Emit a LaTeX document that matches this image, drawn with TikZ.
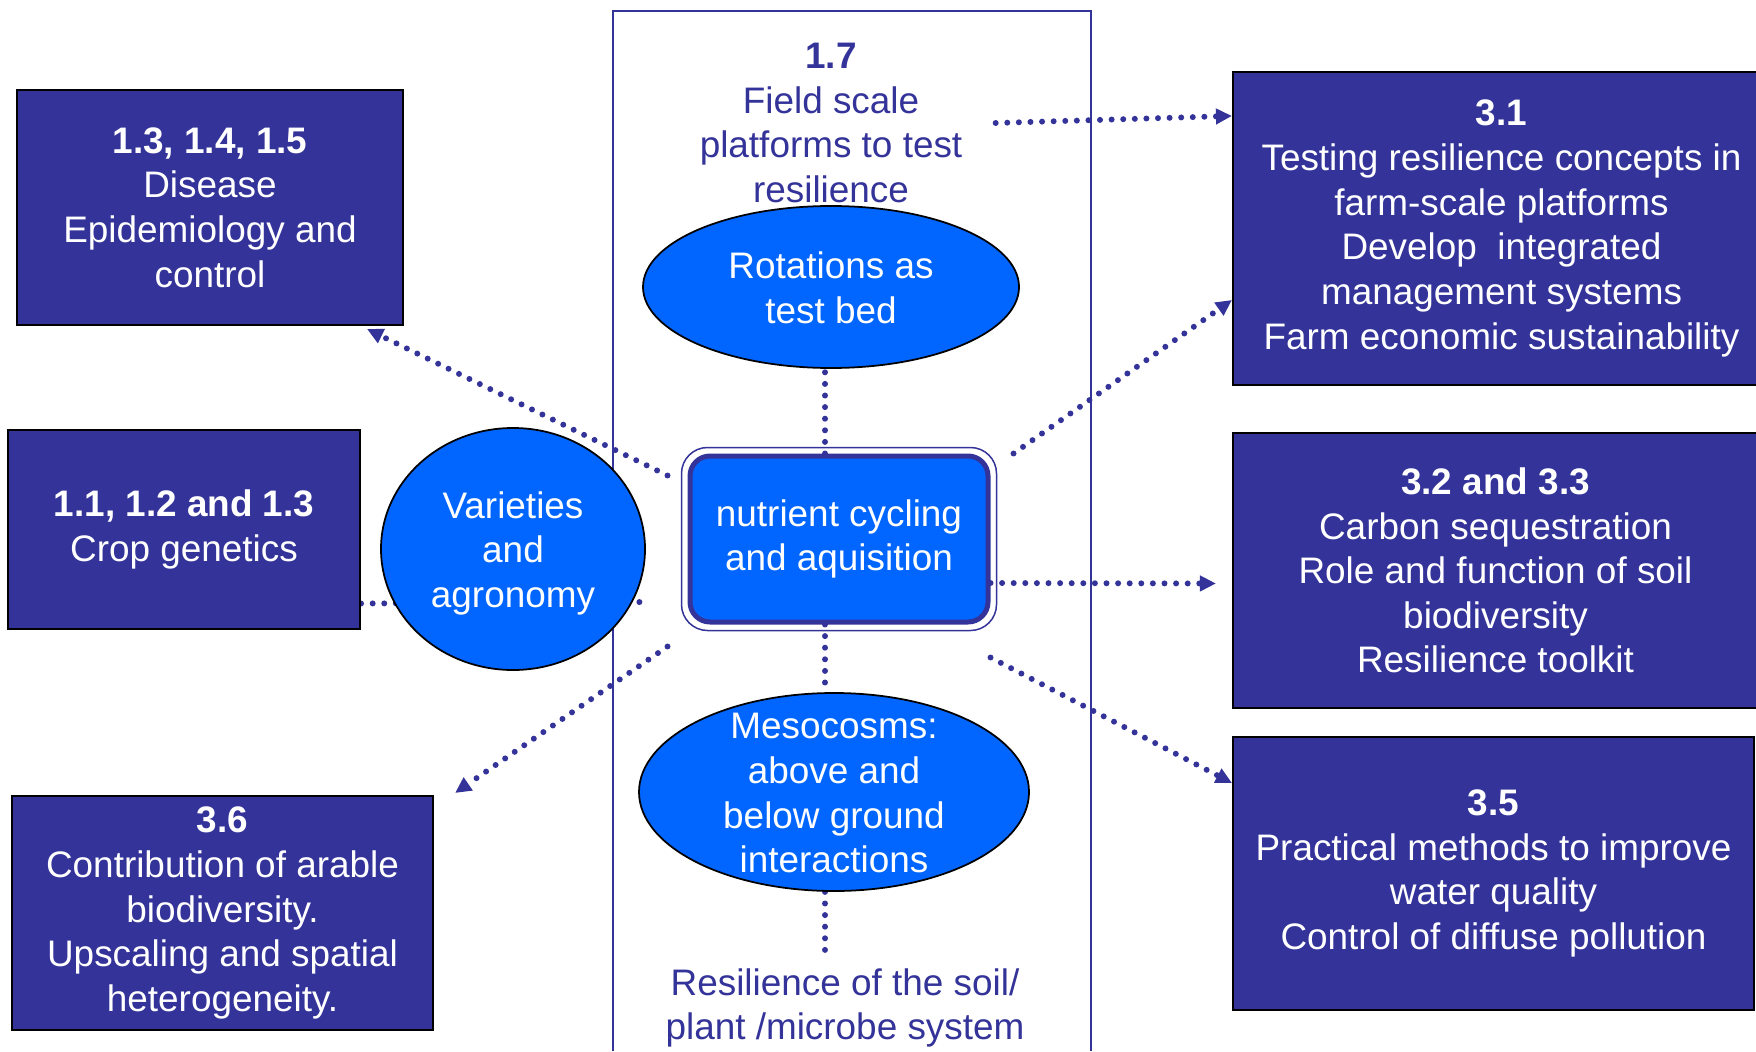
\documentclass[tikz,border=0pt]{standalone}
\usepackage{fontspec}
\setmainfont{Liberation Sans}
\usepackage{xcolor}
\usetikzlibrary{shapes.geometric,arrows.meta,backgrounds}
\definecolor{BoxColor}{HTML}{333399}
\definecolor{OvalColor}{HTML}{0066FF}
\newcommand{\ovaltext}[1]{\smash{\raisebox{-0.145cm}{\begin{tabular}{@{}c@{}}#1\end{tabular}}}}
\tikzset{
  wpbox/.style={draw=black, line width=0.6pt, fill=BoxColor, text=white, align=center, inner sep=0pt,
    execute at begin node={\rule{0pt}{0.38cm}}},
  oval/.style={ellipse, draw=black, line width=0.5pt, fill=OvalColor, text=white, inner sep=0pt},
  dotline/.style={draw=BoxColor, line width=1.7pt, line cap=round, dash pattern=on 0pt off 3.3pt},
  dotarrow/.style={dotline, -{Triangle[length=0.16cm, width=0.15cm]}},
  frametext/.style={text=BoxColor, align=center},
}

\begin{document}
\begin{tikzpicture}[font=\fontsize{10.5}{12.7}\selectfont]
  \useasboundingbox (0,0) rectangle (17.56,-10.51);

  \node[wpbox, minimum width=3.86cm, minimum height=2.35cm] (disease) at (2.10,-2.075)
    {\textbf{1.3, 1.4, 1.5}\\Disease\\Epidemiology and\\control};
  \node[wpbox, minimum width=3.52cm, minimum height=1.99cm] (crop) at (1.84,-5.295)
    {\textbf{1.1, 1.2 and 1.3}\\Crop genetics};
  \node[wpbox, minimum width=4.21cm, minimum height=2.34cm] (arable) at (2.225,-9.13)
    {\textbf{3.6}\\Contribution of arable\\biodiversity.\\Upscaling and spatial\\heterogeneity.};
  \node[wpbox, minimum width=5.37cm, minimum height=3.13cm] (farm) at (15.015,-2.285)
    {\textbf{3.1}\\Testing resilience concepts in\\farm-scale platforms\\Develop~ integrated\\management systems\\Farm economic sustainability};
  \node[wpbox, minimum width=5.25cm, minimum height=2.75cm] (carbon) at (14.955,-5.705)
    {\textbf{3.2 and 3.3}\\Carbon sequestration\\Role and function of soil\\biodiversity\\Resilience toolkit};
  \node[wpbox, minimum width=5.21cm, minimum height=2.73cm] (water) at (14.935,-8.735)
    {\textbf{3.5}\\Practical methods to improve\\water quality\\Control of diffuse pollution};

  \node[frametext] (field) at (8.31,-1.23) {\textbf{1.7}\\Field scale\\platforms to test\\resilience};
  \node[frametext] (soil) at (8.45,-10.08) {Resilience of the soil/\\plant /microbe system};

  \node[oval, minimum width=3.76cm, minimum height=1.62cm] (rot) at (8.31,-2.87)
    {\ovaltext{Rotations as\\test bed}};
  \node[oval, minimum width=2.64cm, minimum height=2.42cm] (var) at (5.13,-5.49)
    {\ovaltext{Varieties\\and\\agronomy}};
  \node[oval, minimum width=3.90cm, minimum height=1.98cm] (meso) at (8.34,-7.92)
    {\ovaltext{Mesocosms:\\above and\\below ground\\interactions}};

  \node[draw=BoxColor, line width=0.05cm, fill=OvalColor, text=white, align=center,
    rounded corners=0.2cm, minimum width=2.98cm, minimum height=1.66cm] (nut) at (8.39,-5.39)
    {nutrient cycling\\and aquisition};
  \draw[BoxColor, line width=0.015cm, rounded corners=0.26cm]
    ([shift={(-0.06,0.06)}]nut.north west) rectangle ([shift={(0.06,-0.06)}]nut.south east);
  \coordinate (axis) at ([xshift=-0.14cm]nut.center);

  \begin{scope}[on background layer]
    \draw[BoxColor, line width=0.02cm] (6.13,-10.51) |- (10.91,-0.11) -- (10.91,-10.51);
    \draw[dotline] ([yshift=-0.74cm]crop.east) -- ([shift={(-0.38,-0.63)}]nut.west);
    \draw[dotline] (axis |- nut.north) -- (axis |- rot.south);
    \draw[dotline] (axis |- nut.south) -- (axis |- meso.north);
    \draw[dotline] (axis |- meso.south) -- (axis |- soil.north);
    \draw[dotarrow] ([xshift=0.21cm]field.east) -- ([yshift=-0.45cm]farm.north west);
    \draw[dotarrow] ([xshift=0.23cm]nut.north east) -- ([yshift=-0.715cm]farm.west);
    \draw[dotarrow] ([yshift=-0.44cm]nut.east) -- ([shift={(-0.16,-0.13)}]carbon.west);
    \draw[dotarrow] ([yshift=-0.33cm]nut.south east) -- ([yshift=-0.47cm]water.north west);
    \draw[dotarrow] ([shift={(-0.2,-0.22)}]nut.north west) -- ([shift={(-0.37,-0.03)}]disease.south east);
    \draw[dotarrow] ([shift={(-0.2,-0.22)}]nut.south west) -- ([shift={(0.21,0.02)}]arable.north east);
  \end{scope}
\end{tikzpicture}
\end{document}
